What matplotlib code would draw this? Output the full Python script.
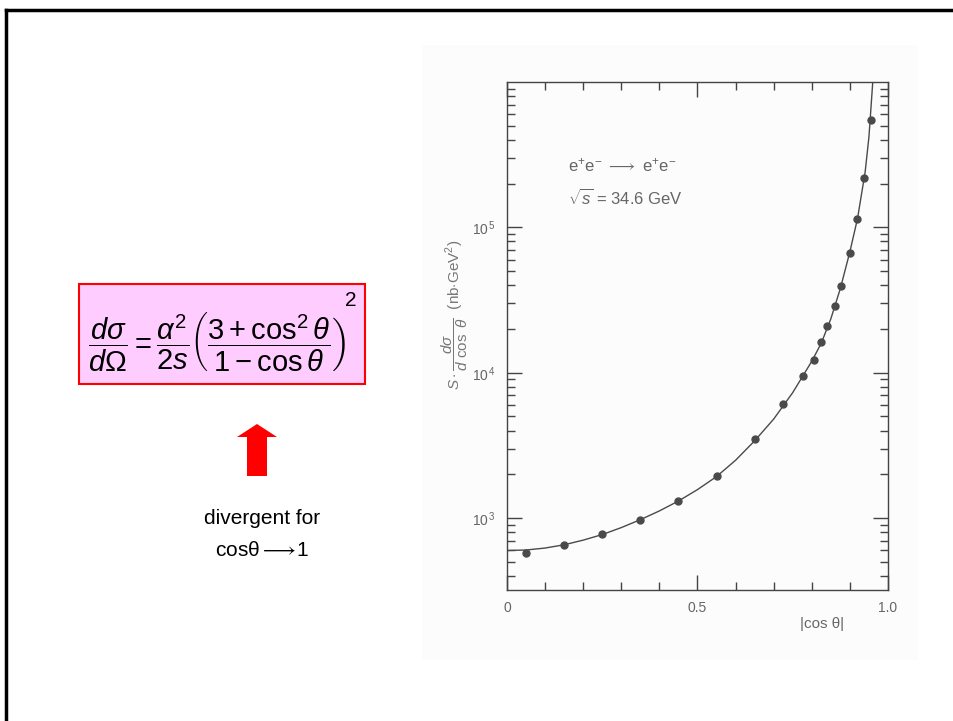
import numpy as np
import matplotlib
matplotlib.use("Agg")
import matplotlib.pyplot as plt
from matplotlib.lines import Line2D
from matplotlib.patches import Rectangle, Polygon

plt.rcParams['font.family'] = ['Liberation Sans', 'DejaVu Sans']
plt.rcParams['mathtext.fontset'] = 'custom'
plt.rcParams['mathtext.rm'] = 'Liberation Sans'
plt.rcParams['mathtext.it'] = 'Liberation Sans:italic'
plt.rcParams['mathtext.bf'] = 'Liberation Sans:bold'

# measured points, e+e- -> e+e-, sqrt(s) = 34.6 GeV
cos_pts = [0.05, 0.15, 0.25, 0.35, 0.45, 0.55, 0.65, 0.725, 0.776, 0.805,
           0.824, 0.841, 0.862, 0.877, 0.899, 0.919, 0.937, 0.955]
xs_pts = [575, 653, 773, 975, 1307, 1940, 3475, 6130, 9480, 12300,
          16200, 20900, 28800, 39600, 66300, 114000, 219000, 550000]

# curve
cos_curve = [0.0, 0.05, 0.10, 0.15, 0.20, 0.25, 0.30, 0.35, 0.40, 0.45, 0.50,
             0.55, 0.60, 0.65, 0.70, 0.75, 0.80, 0.825, 0.85, 0.875, 0.90,
             0.92, 0.94, 0.95, 0.96]
xs_curve = [598, 603, 622, 655, 705, 770, 860, 975, 1120, 1310, 1570,
            1930, 2500, 3400, 4800, 7300, 12000, 16000, 23500, 38000, 68000,
            115000, 240000, 420000, 1000000]

fig = plt.figure(figsize=(9.54, 7.21), dpi=100)

def px(x, y):
    return x / 954, 1 - y / 721

# slide frame
fig.add_artist(Line2D([px(6, 0)[0], 1], [px(0, 10)[1]] * 2, color='black', lw=2.5))
fig.add_artist(Line2D([px(6, 0)[0]] * 2, [0, px(0, 10)[1]], color='black', lw=2.5))

# scanned figure background
x0, y0 = px(422, 660)
x1, y1 = px(918, 45)
fig.add_artist(Rectangle((x0, y0), x1 - x0, y1 - y0, facecolor='#fcfcfc',
                         edgecolor='none', zorder=0))

# the plot
l, b = px(507, 590)
r, t = px(888, 82)
ax = fig.add_axes([l, b, r - l, t - b])
ax.set_facecolor('none')
ax.set_yscale('log')
ax.set_xlim(0, 1.0)
ax.set_ylim(320, 1e6)
ax.plot(cos_curve, xs_curve, color='#4a4a4a', lw=1.0)
ax.plot(cos_pts, xs_pts, 'o', color='#4a4a4a', ms=5)

for s in ax.spines.values():
    s.set_color('#444444')
    s.set_linewidth(1.0)

ax.set_xticks([0, 0.5, 1.0])
ax.set_xticklabels(['0', '0.5', '1.0'])
ax.set_xticks(np.arange(0.1, 1.0, 0.1), minor=True)
ax.set_yticks([1e3, 1e4, 1e5])
ax.set_yticklabels(['10$^{\\,3}$', '10$^{\\,4}$', '10$^{\\,5}$'])
ax.tick_params(which='both', direction='in', top=True, right=True,
               colors='#444444', labelcolor='#666666', labelsize=10)
ax.tick_params(which='major', length=11, width=1.0, pad=8)
ax.tick_params(which='minor', length=6, width=1.0)

ax.text(0.16, 2.67e5, 'e$^{+}$e$^{-}$ $\\longrightarrow$ e$^{+}$e$^{-}$',
        fontsize=12, color='#666666', va='center')
ax.text(0.16, 1.59e5, '$\\sqrt{s}$ = 34.6 GeV', fontsize=12, color='#666666',
        va='center')
ax.text(0.77, -0.075, '|cos θ|', transform=ax.transAxes, fontsize=11,
        color='#666666')
fig.text(*px(455, 315), r'$S\cdot\dfrac{d\sigma}{d\ \cos\ \theta}$  (nb$\cdot$GeV$^{2}$)',
         rotation=90, ha='center', va='center', fontsize=11, color='#777777')

# formula box
bx0, by0 = px(79, 384)
bx1, by1 = px(365, 284)
fig.add_artist(Rectangle((bx0, by0), bx1 - bx0, by1 - by0, facecolor='#ffccff',
                         edgecolor='#ff0000', lw=1.5))
fig.text(*px(217, 343),
         r'$\dfrac{d\sigma}{d\Omega} = \dfrac{\alpha^2}{2s}'
         r'\left(\dfrac{3+\cos^2\theta}{1-\cos\theta}\right)$',
         ha='center', va='center', fontsize=21, color='black')
fig.text(*px(351, 301), '2', ha='center', va='center', fontsize=15)

# red arrow
arrow = [px(247, 476), px(267, 476), px(267, 437), px(277, 437),
         px(257, 424), px(237, 437), px(247, 437)]
fig.add_artist(Polygon(arrow, closed=True, facecolor='#ff0000', edgecolor='none'))

fig.text(*px(262, 518), 'divergent for', ha='center', va='center', fontsize=15)
fig.text(*px(262, 551), 'cosθ$\\longrightarrow\\!$1', ha='center',
         va='center', fontsize=15)

fig.savefig('out.png', dpi=100)
